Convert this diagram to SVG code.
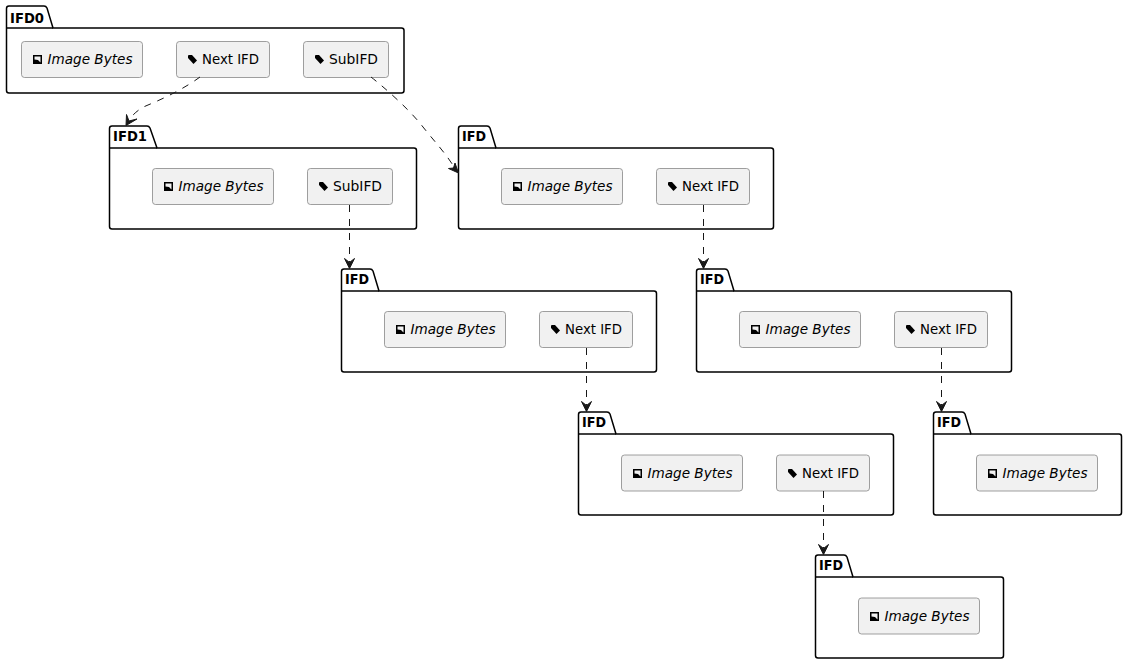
<svg xmlns="http://www.w3.org/2000/svg" width="1127" height="664" viewBox="0 0 1127 664">
<style>
text{font-family:"DejaVu Sans",sans-serif;font-size:14px;fill:#000}
.t{font-weight:bold}
.i{font-style:italic}
.p{fill:#fff;stroke:#000;stroke-width:1.5}
.b{fill:#f1f1f1;stroke:#808080;stroke-width:.75}
.c{fill:none;stroke:#181818;stroke-width:1;stroke-dasharray:7 7}
.h{fill:#181818;stroke:#181818}
</style>
<defs>
<g id="img"><path d="M1 1H10V10H1Z" fill="#000"/><path d="M2.500 2.500H8.500V8.500L6 6L2.500 5.500Z" fill="#f1f1f1"/></g>
<path id="tag" d="M1 1.500L2 1H5L10 6.500L6.500 10L1 4Z" fill="#000"/>
</defs>
<g id="ifd0">
<path class="p" d="M9 6H44Q46 6 47 8L53 28H401.500Q404 28 404 30.500V90.500Q404 93 401.500 93H9Q6.500 93 6.500 90.500V8.500Q6.500 6 9 6Z"/><path class="p" d="M6.500 28H53"/>
<text class="t" x="10" y="23" textLength="34" lengthAdjust="spacingAndGlyphs">IFD0</text>
<g id="ifd0-image"><rect class="b" x="21.500" y="41.500" width="121" height="36" rx="3"/><use href="#img" x="32" y="54"/><text class="i" x="47.500" y="64" textLength="85" lengthAdjust="spacingAndGlyphs">Image Bytes</text></g>
<g id="ifd0-next"><rect class="b" x="176.500" y="41.500" width="93" height="36" rx="3"/><use href="#tag" x="187" y="54"/><text x="202" y="64" textLength="57" lengthAdjust="spacingAndGlyphs">Next IFD</text></g>
<g id="ifd0-sub"><rect class="b" x="303.500" y="41.500" width="85" height="36" rx="3"/><use href="#tag" x="314" y="54"/><text x="329" y="64" textLength="49" lengthAdjust="spacingAndGlyphs">SubIFD</text></g>
</g>
<g id="ifd1">
<path class="p" d="M112 126H147Q149 126 150 128L157 148H414Q416.500 148 416.500 150.500V226.500Q416.500 229 414 229H112Q109.500 229 109.500 226.500V128.500Q109.500 126 112 126Z"/><path class="p" d="M109.500 148H157"/>
<text class="t" x="113" y="141" textLength="34" lengthAdjust="spacingAndGlyphs">IFD1</text>
<g id="ifd1-image"><rect class="b" x="152.500" y="168.500" width="121" height="36" rx="3"/><use href="#img" x="163" y="181"/><text class="i" x="178.500" y="191" textLength="85" lengthAdjust="spacingAndGlyphs">Image Bytes</text></g>
<g id="ifd1-sub"><rect class="b" x="307.500" y="168.500" width="85" height="36" rx="3"/><use href="#tag" x="318" y="181"/><text x="333" y="191" textLength="49" lengthAdjust="spacingAndGlyphs">SubIFD</text></g>
</g>
<g id="ifd-a">
<path class="p" d="M461 126H487Q489 126 490 128L496 148H771Q773.500 148 773.500 150.500V226.500Q773.500 229 771 229H461Q458.500 229 458.500 226.500V128.500Q458.500 126 461 126Z"/><path class="p" d="M458.500 148H496"/>
<text class="t" x="462" y="141" textLength="24" lengthAdjust="spacingAndGlyphs">IFD</text>
<g id="ifd-a-image"><rect class="b" x="501.500" y="168.500" width="121" height="36" rx="3"/><use href="#img" x="512" y="181"/><text class="i" x="527.500" y="191" textLength="85" lengthAdjust="spacingAndGlyphs">Image Bytes</text></g>
<g id="ifd-a-next"><rect class="b" x="656.500" y="168.500" width="93" height="36" rx="3"/><use href="#tag" x="667" y="181"/><text x="682" y="191" textLength="57" lengthAdjust="spacingAndGlyphs">Next IFD</text></g>
</g>
<g id="ifd-b">
<path class="p" d="M344 269H370Q372 269 373 271L379 291H654Q656.500 291 656.500 293.500V369.500Q656.500 372 654 372H344Q341.500 372 341.500 369.500V271.500Q341.500 269 344 269Z"/><path class="p" d="M341.500 291H379"/>
<text class="t" x="345" y="284" textLength="24" lengthAdjust="spacingAndGlyphs">IFD</text>
<g id="ifd-b-image"><rect class="b" x="384.500" y="311.500" width="121" height="36" rx="3"/><use href="#img" x="395" y="324"/><text class="i" x="410.500" y="334" textLength="85" lengthAdjust="spacingAndGlyphs">Image Bytes</text></g>
<g id="ifd-b-next"><rect class="b" x="539.500" y="311.500" width="93" height="36" rx="3"/><use href="#tag" x="550" y="324"/><text x="565" y="334" textLength="57" lengthAdjust="spacingAndGlyphs">Next IFD</text></g>
</g>
<g id="ifd-c">
<path class="p" d="M699 269H725Q727 269 728 271L734 291H1009Q1011.500 291 1011.500 293.500V369.500Q1011.500 372 1009 372H699Q696.500 372 696.500 369.500V271.500Q696.500 269 699 269Z"/><path class="p" d="M696.500 291H734"/>
<text class="t" x="700" y="284" textLength="24" lengthAdjust="spacingAndGlyphs">IFD</text>
<g id="ifd-c-image"><rect class="b" x="739.500" y="311.500" width="121" height="36" rx="3"/><use href="#img" x="750" y="324"/><text class="i" x="765.500" y="334" textLength="85" lengthAdjust="spacingAndGlyphs">Image Bytes</text></g>
<g id="ifd-c-next"><rect class="b" x="894.500" y="311.500" width="93" height="36" rx="3"/><use href="#tag" x="905" y="324"/><text x="920" y="334" textLength="57" lengthAdjust="spacingAndGlyphs">Next IFD</text></g>
</g>
<g id="ifd-d">
<path class="p" d="M581 412H607Q609 412 610 414L616 434H891Q893.500 434 893.500 436.500V512.500Q893.500 515 891 515H581Q578.500 515 578.500 512.500V414.500Q578.500 412 581 412Z"/><path class="p" d="M578.500 434H616"/>
<text class="t" x="582" y="427" textLength="24" lengthAdjust="spacingAndGlyphs">IFD</text>
<g id="ifd-d-image"><rect class="b" x="621.500" y="455" width="121" height="36" rx="3"/><use href="#img" x="632" y="468"/><text class="i" x="647.500" y="478" textLength="85" lengthAdjust="spacingAndGlyphs">Image Bytes</text></g>
<g id="ifd-d-next"><rect class="b" x="776.500" y="455" width="93" height="36" rx="3"/><use href="#tag" x="787" y="468"/><text x="802" y="478" textLength="57" lengthAdjust="spacingAndGlyphs">Next IFD</text></g>
</g>
<g id="ifd-e">
<path class="p" d="M936 412H962Q964 412 965 414L971 434H1119Q1121.500 434 1121.500 436.500V512.500Q1121.500 515 1119 515H936Q933.500 515 933.500 512.500V414.500Q933.500 412 936 412Z"/><path class="p" d="M933.500 434H971"/>
<text class="t" x="937" y="427" textLength="24" lengthAdjust="spacingAndGlyphs">IFD</text>
<g id="ifd-e-image"><rect class="b" x="976.500" y="455" width="121" height="36" rx="3"/><use href="#img" x="987" y="468"/><text class="i" x="1002.500" y="478" textLength="85" lengthAdjust="spacingAndGlyphs">Image Bytes</text></g>
</g>
<g id="ifd-f">
<path class="p" d="M818 555H844Q846 555 847 557L853 577H1001Q1003.500 577 1003.500 579.500V655.500Q1003.500 658 1001 658H818Q815.500 658 815.500 655.500V557.500Q815.500 555 818 555Z"/><path class="p" d="M815.500 577H853"/>
<text class="t" x="819" y="570" textLength="24" lengthAdjust="spacingAndGlyphs">IFD</text>
<g id="ifd-f-image"><rect class="b" x="858.500" y="598" width="121" height="36" rx="3"/><use href="#img" x="869" y="611"/><text class="i" x="884.500" y="621" textLength="85" lengthAdjust="spacingAndGlyphs">Image Bytes</text></g>
</g>
<g id="connectors">
<path class="c" d="M200 77C185 88 165 98 148 105C140 108 133 114 129 120"/>
<path class="h" d="M126 125.500L126.500 114.500L129 121L137 119Z"/>
<path class="c" d="M371 77C385 88 410 110 423 127C435 142 447 155 454 167"/>
<path class="h" d="M458.500 173L448.500 168.500L453.500 168L455 163Z"/>
<path class="c" d="M349.500 205V262"/><path class="h" d="M349.500 268.500L344.500 258.500L349.500 262.500L354.500 258.500Z"/>
<path class="c" d="M703.500 205V262"/><path class="h" d="M703.500 268.500L698.500 258.500L703.500 262.500L708.500 258.500Z"/>
<path class="c" d="M586.500 348V405"/><path class="h" d="M586.500 411.500L581.500 401.500L586.500 405.500L591.500 401.500Z"/>
<path class="c" d="M941.500 348V405"/><path class="h" d="M941.500 411.500L936.500 401.500L941.500 405.500L946.500 401.500Z"/>
<path class="c" d="M823.500 491V548"/><path class="h" d="M823.500 554.500L818.500 544.500L823.500 548.500L828.500 544.500Z"/>
</g>
</svg>
